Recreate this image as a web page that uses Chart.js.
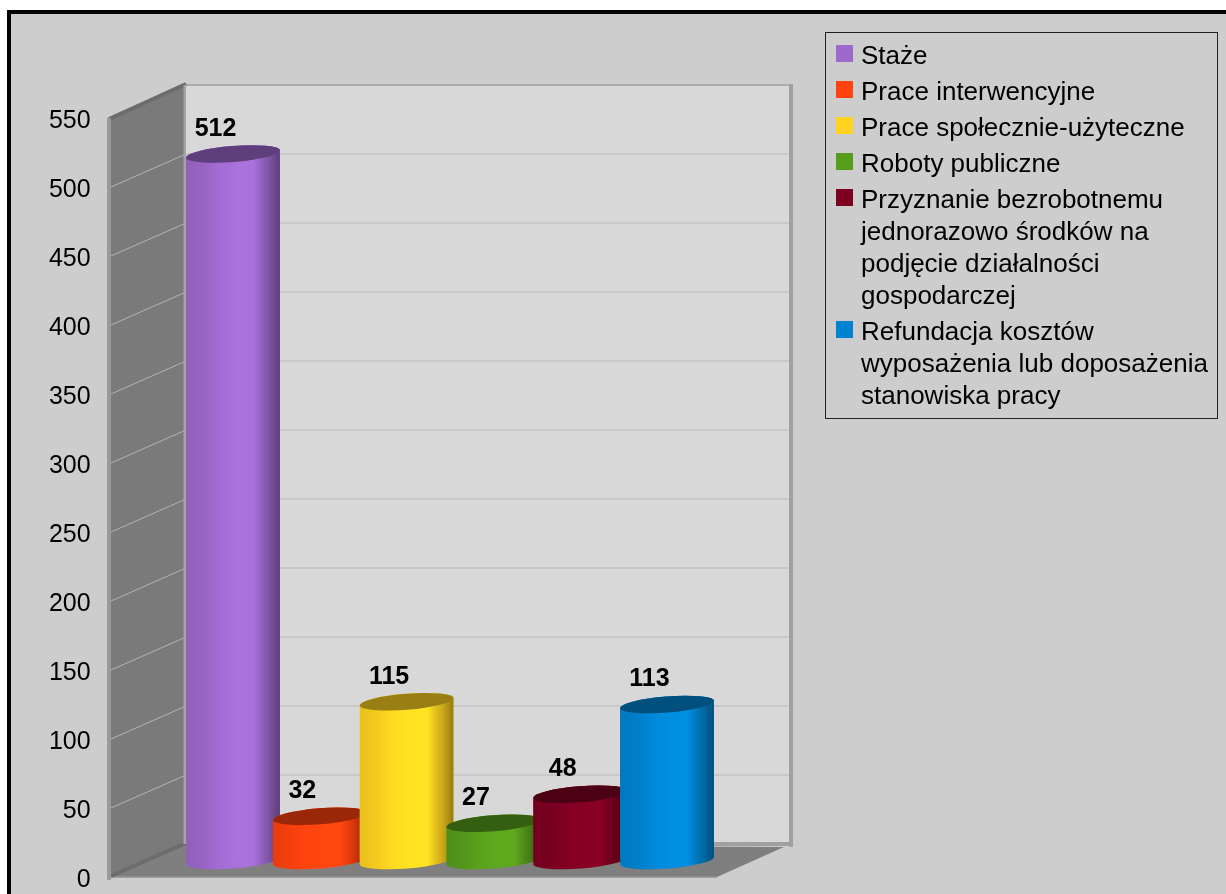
<!DOCTYPE html>
<html lang="pl">
<head>
<meta charset="utf-8">
<title>Chart</title>
<script src="https://cdn.jsdelivr.net/npm/chart.js@4"></script>
<style>
  html, body { margin: 0; padding: 0; background: #fff; overflow: hidden; width: 1226px; height: 894px; }
  #frame { position: absolute; left: 7px; top: 10px; width: 1300px; height: 1000px; border: 4.5px solid #000; background: #cdcdcd; }
  #chart { position: absolute; left: 0; top: 0; }
  #legend { position: absolute; left: 825px; top: 32px; width: 391px; height: 385px; border: 1px solid #222;
    font-family: "Liberation Sans", Arial, sans-serif; font-size: 26px; line-height: 32px; color: #000; }
  .entry { position: relative; padding-left: 35px; margin-bottom: 4px; }
  .entry:first-child { margin-top: 6px; }
  .swatch { position: absolute; left: 10px; top: 6px; width: 16.5px; height: 16.5px; }
</style>
</head>
<body>
<div id="frame"></div>
<canvas id="chart" width="1226" height="894"></canvas>
<div id="legend"></div>
<script>
const categories = ["Staże", "Prace interwencyjne", "Prace społecznie-użyteczne", "Roboty publiczne",
  "Przyznanie bezrobotnemu jednorazowo środków na podjęcie działalności gospodarczej",
  "Refundacja kosztów wyposażenia lub doposażenia stanowiska pracy"];
const values = [512, 32, 115, 27, 48, 113];
const colors = ["#9e69cd", "#ff420e", "#ffd320", "#579d1c", "#7e0021", "#0084d1"];

// depth of the fake 3d box and of the bars inside it
const DEPTH_X = 75, DEPTH_Y = 33, BAR_SHIFT = 16.5;
const RY = 8, ROT = -4.5 * Math.PI / 180;

// bar element drawn as a lit cylinder, x/y/base/width still come from the scales
class Cylinder extends Chart.BarElement {
  draw(ctx) {
    const rx = this.width / 2, color = this.options.backgroundColor;
    const left = this.x - rx;

    ctx.save();
    ctx.translate(0, -BAR_SHIFT);
    ctx.beginPath();
    ctx.ellipse(this.x, this.base, rx, RY, ROT, Math.PI, 0, true);
    ctx.ellipse(this.x, this.y, rx, RY, ROT, 0, Math.PI, true);
    ctx.closePath();
    ctx.fillStyle = color;
    ctx.fill();
    ctx.clip();
    super.draw(ctx);

    // highlight adds the bar's own colour so it stays saturated
    const hi = ctx.createLinearGradient(left, 0, left + this.width, 0);
    hi.addColorStop(0.2, color + "00");
    hi.addColorStop(0.55, color + "14");
    hi.addColorStop(0.72, color + "14");
    hi.addColorStop(0.85, color + "00");
    ctx.globalCompositeOperation = "lighter";
    ctx.fillStyle = hi;
    ctx.fillRect(left - 2, this.y - 20, this.width + 4, this.base - this.y + 40);
    ctx.globalCompositeOperation = "source-over";

    const shade = ctx.createLinearGradient(left, 0, left + this.width, 0);
    shade.addColorStop(0, "rgba(0,0,0,0.09)");
    shade.addColorStop(0.35, "rgba(0,0,0,0)");
    shade.addColorStop(0.72, "rgba(0,0,0,0)");
    shade.addColorStop(0.87, "rgba(0,0,0,0.18)");
    shade.addColorStop(1, "rgba(0,0,0,0.42)");
    ctx.fillStyle = shade;
    ctx.fillRect(left - 2, this.y - 20, this.width + 4, this.base - this.y + 40);
    ctx.restore();

    // lid
    ctx.save();
    ctx.translate(0, -BAR_SHIFT);
    ctx.beginPath();
    ctx.ellipse(this.x, this.y, rx, RY, ROT, 0, Math.PI * 2);
    ctx.fillStyle = color;
    ctx.fill();
    ctx.fillStyle = "rgba(0,0,0,0.4)";
    ctx.fill();
    ctx.restore();
  }
}
Cylinder.id = "cylinder";
Cylinder.defaults = Chart.BarElement.defaults;
Chart.register(Cylinder);
Chart.defaults.datasets.bar.dataElementType = "cylinder";

const valueLabels = {
  id: "valueLabels",
  afterDatasetsDraw(chart) {
    const ctx = chart.ctx;
    ctx.save();
    ctx.font = 'bold 25px "Liberation Sans", Arial, sans-serif';
    ctx.fillStyle = "#000";
    ctx.textAlign = "center";
    ctx.textBaseline = "middle";
    chart.getDatasetMeta(0).data.forEach((el, i) => {
      ctx.fillText(String(values[i]), el.x - 17.5, el.y - BAR_SHIFT - 25);
    });
    ctx.restore();
  }
};

const box3d = {
  id: "box3d",
  beforeDatasetsDraw(chart) {
    const ctx = chart.ctx, y = chart.scales.y;
    const front = 111, back = front + DEPTH_X, wallRight = 790, frontRight = 717;
    const y0 = y.getPixelForValue(0), yTop = y.getPixelForValue(550);
    ctx.save();

    // back wall
    ctx.fillStyle = "#d8d8d8";
    ctx.fillRect(back, yTop - DEPTH_Y, wallRight - back, y0 - yTop);
    ctx.strokeStyle = "#c3c3c3";
    ctx.lineWidth = 1.5;
    y.ticks.forEach(t => {
      const py = y.getPixelForValue(t.value) - DEPTH_Y;
      ctx.beginPath();
      ctx.moveTo(back, py);
      ctx.lineTo(wallRight, py);
      ctx.stroke();
    });
    ctx.fillStyle = "#adadad";
    ctx.fillRect(back, yTop - DEPTH_Y - 1, wallRight - back, 2);
    ctx.fillStyle = "#a0a0a0";
    ctx.fillRect(wallRight - 1, yTop - DEPTH_Y - 1, 4, y0 - yTop + 4);

    // floor
    ctx.fillStyle = "#7f7f7f";
    ctx.beginPath();
    ctx.moveTo(front, y0);
    ctx.lineTo(back, y0 - DEPTH_Y);
    ctx.lineTo(wallRight - 6, y0 - DEPTH_Y + 3);
    ctx.lineTo(frontRight, y0);
    ctx.closePath();
    ctx.fill();
    ctx.fillStyle = "#a0a0a0";
    ctx.fillRect(front, y0 - 0.5, frontRight - front, 1.5);
    ctx.fillRect(back, y0 - DEPTH_Y - 2, wallRight - back + 3, 4);

    // left wall
    ctx.fillStyle = "#7a7a7a";
    ctx.beginPath();
    ctx.moveTo(front, yTop);
    ctx.lineTo(back, yTop - DEPTH_Y);
    ctx.lineTo(back, y0 - DEPTH_Y);
    ctx.lineTo(front, y0);
    ctx.closePath();
    ctx.fill();
    ctx.strokeStyle = "#b4b4b4";
    ctx.lineWidth = 1;
    y.ticks.forEach(t => {
      if (t.value === 0 || t.value === 550) return;
      const py = y.getPixelForValue(t.value);
      ctx.beginPath();
      ctx.moveTo(front, py);
      ctx.lineTo(back, py - DEPTH_Y);
      ctx.stroke();
    });
    // edge of the wall
    ctx.strokeStyle = "#6c6c6c";
    ctx.lineWidth = 4;
    ctx.beginPath();
    ctx.moveTo(front - 2, yTop + 1);
    ctx.lineTo(back, yTop - DEPTH_Y - 1);
    ctx.stroke();
    ctx.beginPath();
    ctx.moveTo(front, y0 - 1);
    ctx.lineTo(back, y0 - DEPTH_Y - 1);
    ctx.stroke();
    ctx.fillStyle = "#a4a4a4";
    ctx.fillRect(back - 2.5, yTop - DEPTH_Y, 2.5, y0 - yTop);
    ctx.fillStyle = "#9a9a9a";
    ctx.fillRect(front - 4, yTop, 4, y0 - yTop + 3);
    ctx.restore();
  }
};

new Chart(document.getElementById("chart"), {
  type: "bar",
  data: {
    labels: categories,
    datasets: [{
      data: values,
      backgroundColor: colors,
      borderWidth: 0,
      clip: false
    }]
  },
  options: {
    responsive: false,
    animation: false,
    barPercentage: 1.083,
    categoryPercentage: 1,
    layout: { padding: { top: 118, bottom: 17, left: 0, right: 515.6 } },
    plugins: { legend: { display: false }, tooltip: { enabled: false } },
    scales: {
      x: { display: false },
      y: {
        min: 0,
        max: 550,
        afterFit(scale) {
          scale.width = 189.6;
          scale.paddingTop = 0;
          scale.paddingBottom = 0;
        },
        grid: { display: false },
        border: { display: false },
        ticks: {
          stepSize: 50,
          padding: 91,
          labelOffset: 3.5,
          color: "#000",
          font: { family: '"Liberation Sans", Arial, sans-serif', size: 25 }
        }
      }
    }
  },
  plugins: [box3d, valueLabels]
});

// legend entries wrap on their own inside the box
const legend = document.getElementById("legend");
categories.forEach((name, i) => {
  const row = document.createElement("div");
  row.className = "entry";
  const sw = document.createElement("span");
  sw.className = "swatch";
  sw.style.background = colors[i];
  row.appendChild(sw);
  row.appendChild(document.createTextNode(name));
  legend.appendChild(row);
});
</script>
</body>
</html>
